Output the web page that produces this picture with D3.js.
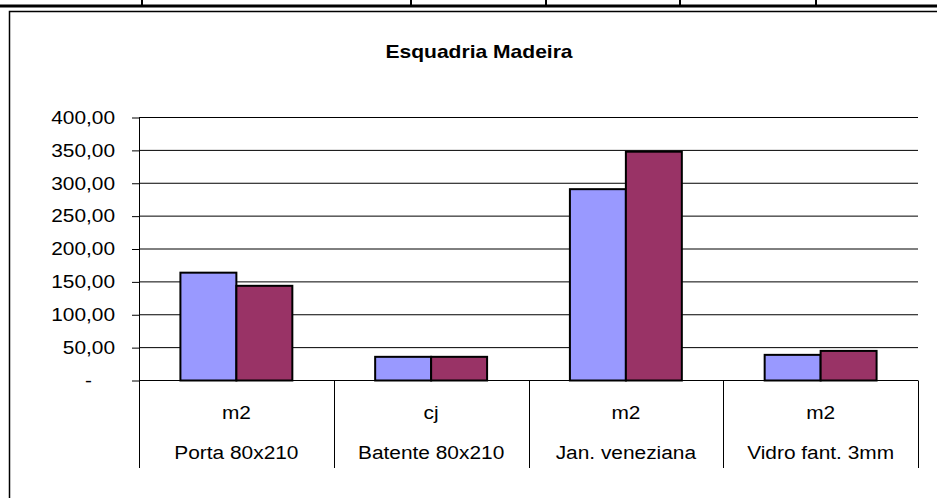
<!DOCTYPE html>
<html>
<head>
<meta charset="utf-8">
<script src="https://cdnjs.cloudflare.com/ajax/libs/d3/7.8.5/d3.min.js"></script>
<style>
  html, body { margin: 0; padding: 0; background: #fff; }
  svg { display: block; }
  text { font-family: "Liberation Sans", Arial, sans-serif; fill: #000; }
</style>
</head>
<body>
<svg width="937" height="498"></svg>
<script>
// dados da planilha
const categories = ["Porta 80x210", "Batente 80x210", "Jan. veneziana", "Vidro fant. 3mm"];
const units = ["m2", "cj", "m2", "m2"];
const serie1 = [164, 36, 291, 39];
const serie2 = [144, 36, 348, 45];
const yTicks = [0, 50, 100, 150, 200, 250, 300, 350, 400];

const series = [
  { key: "s1", values: serie1, color: "#9999FF" },
  { key: "s2", values: serie2, color: "#993366" }
];

const svg = d3.select("svg");
const stretch = 1.16; // texto do Excel sai mais largo

// pedaço da planilha por cima do gráfico
svg.append("line")
  .attr("x1", 0).attr("x2", 937).attr("y1", 6).attr("y2", 6)
  .attr("stroke", "#000").attr("stroke-width", 3);
[142, 411, 546, 680, 816].forEach(x => {
  svg.append("line")
    .attr("x1", x).attr("x2", x).attr("y1", 0).attr("y2", 6)
    .attr("stroke", "#000").attr("stroke-width", 2);
});

// moldura do gráfico
svg.append("rect")
  .attr("x", 9.5).attr("y", 11.5)
  .attr("width", 960).attr("height", 520)
  .attr("fill", "#fff").attr("stroke", "#000").attr("stroke-width", 1.5);

const plot = { left: 139, right: 918, top: 117.5, bottom: 380.5 };

const x0 = d3.scaleBand()
  .domain(categories)
  .range([plot.left, plot.right])
  .padding(0);

const x1 = d3.scaleBand()
  .domain(series.map(s => s.key))
  .range([0, x0.bandwidth()])
  .paddingInner(0.425 * 0)
  .paddingOuter(0);

// largura do grupo de barras (gap 150%)
const groupW = x0.bandwidth() / 1.74;
x1.range([(x0.bandwidth() - groupW) / 2, (x0.bandwidth() + groupW) / 2]);

const y = d3.scaleLinear()
  .domain([0, 400])
  .range([plot.bottom, plot.top]);

// linhas de grade
svg.append("g")
  .selectAll("line")
  .data(yTicks)
  .join("line")
  .attr("x1", plot.left).attr("x2", plot.right)
  .attr("y1", d => y(d)).attr("y2", d => y(d))
  .attr("stroke", "#000").attr("stroke-width", 1);

// eixo Y
const fmt = d => d === 0 ? "-" : d3.format(".2f")(d).replace(".", ",");
const yAxis = svg.append("g")
  .attr("transform", `translate(${plot.left}, 0)`)
  .call(d3.axisLeft(y).tickValues(yTicks).tickFormat(fmt).tickSize(7).tickPadding(17));

yAxis.select(".domain").remove();
yAxis.selectAll(".tick line").attr("stroke", "#000");
yAxis.selectAll(".tick text")
  .attr("font-size", 18)
  .attr("font-family", "'Liberation Sans', Arial, sans-serif")
  .attr("x", d => (d === 0 ? -47 : -24) / stretch)
  .attr("transform", `scale(${stretch},1)`);

svg.append("line")
  .attr("x1", plot.left + 0.5).attr("x2", plot.left + 0.5)
  .attr("y1", plot.top).attr("y2", 468)
  .attr("stroke", "#000");

// separadores das categorias
const bounds = categories.map(c => x0(c)).concat([x0(categories[categories.length - 1]) + x0.bandwidth()]);
svg.append("g")
  .selectAll("line")
  .data(bounds.slice(1))
  .join("line")
  .attr("x1", d => Math.round(d) + 0.5).attr("x2", d => Math.round(d) + 0.5)
  .attr("y1", plot.bottom).attr("y2", 468)
  .attr("stroke", "#000");

// barras
const groups = svg.append("g")
  .selectAll("g")
  .data(categories)
  .join("g")
  .attr("transform", c => `translate(${x0(c)},0)`);

groups.selectAll("rect")
  .data((c, i) => series.map(s => ({ key: s.key, value: s.values[i], color: s.color })))
  .join("rect")
  .attr("x", d => x1(d.key))
  .attr("y", d => y(d.value))
  .attr("width", x1.bandwidth())
  .attr("height", d => y(0) - y(d.value))
  .attr("fill", d => d.color)
  .attr("stroke", "#000")
  .attr("stroke-width", 2);

// rótulos das categorias (unidade + descrição)
categories.forEach((c, i) => {
  const cx = x0(c) + x0.bandwidth() / 2;
  svg.append("text")
    .attr("transform", `translate(${cx},418.5) scale(${stretch},1)`)
    .attr("text-anchor", "middle")
    .attr("font-size", 18)
    .text(units[i]);
  svg.append("text")
    .attr("transform", `translate(${cx},458.5) scale(${stretch},1)`)
    .attr("text-anchor", "middle")
    .attr("font-size", 18)
    .text(c);
});

// título
svg.append("text")
  .attr("transform", "translate(479,57.5) scale(1.17,1)")
  .attr("text-anchor", "middle")
  .attr("font-size", 18)
  .attr("font-weight", "bold")
  .text("Esquadria Madeira");
</script>
</body>
</html>
